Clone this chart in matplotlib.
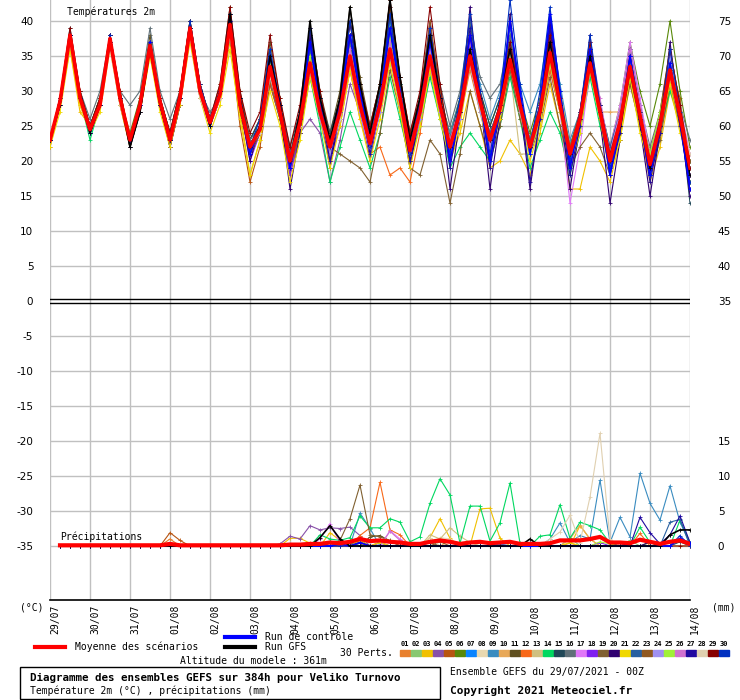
import numpy as np
import matplotlib
matplotlib.use("Agg")
import matplotlib.pyplot as plt
from matplotlib.lines import Line2D
from matplotlib.patches import Rectangle
from matplotlib.transforms import ScaledTranslation

plt.rcParams['font.family'] = ['DejaVu Sans Mono', 'DejaVu Sans']

dates = ['29/07', '30/07', '31/07', '01/08', '02/08', '03/08', '04/08', '05/08', '06/08',
         '07/08', '08/08', '09/08', '10/08', '11/08', '12/08', '13/08', '14/08']
hours = np.arange(0, 385, 6)          # température toutes les 6h
hours_prec = np.arange(6, 385, 6)     # cumul de précipitations sur 6h

colors = ['#e8802e', '#88c870', '#f0c000', '#8850a8', '#b85410', '#588808', '#0a84ff', '#e8d8b0',
          '#3a8cc0', '#e8a858', '#605020', '#f86818', '#d0c080', '#00d860', '#204858', '#607078',
          '#e078f8', '#8020f0', '#806030', '#300070', '#f0d800', '#2860a0', '#905820', '#a090f0',
          '#a0f038', '#d070d0', '#2008a0', '#e0d0b0', '#880000', '#0030c0']

t01 = [23,29,38,29, 24,28,37,30, 23,28,37,28, 23,29,39,31, 25,30,40,28, 21,24,34,27, 19,25,35,28, 23,28,37,29, 23,29,38,30, 22,27,35,27, 21,26,33,27, 24,28,36,29, 21,26,34,28, 20,25,33,26, 21,26,35,28, 18,24,31,27, 20]
t02 = [23,28,37,29, 25,28,37,29, 23,28,36,28, 22,28,38,30, 26,29,39,28, 22,25,33,27, 20,24,33,26, 21,26,34,27, 22,27,35,28, 20,26,33,27, 22,27,36,28, 22,26,33,27, 23,28,36,29, 22,27,35,28, 19,24,32,25, 20,26,34,27, 18]
t03 = [23,28,36,27, 25,29,38,29, 22,27,35,28, 23,29,38,30, 26,29,37,27, 18,23,31,26, 19,24,32,26, 20,25,33,27, 23,28,35,28, 21,26,33,26, 20,24,30,25, 19,20,23,21, 18,24,31,25, 16,16,22,20, 17,23,31,25, 17,22,30,25, 17]
t04 = [23,29,38,29, 24,28,37,29, 23,28,36,29, 23,29,39,30, 25,29,38,28, 21,24,31,26, 19,24,26,24, 17,23,31,27, 22,28,37,29, 22,27,35,29, 23,28,36,29, 24,28,35,28, 22,27,36,29, 20,26,36,28, 21,27,35,27, 19,25,33,27, 18]
t05 = [22,28,37,29, 24,28,37,28, 22,27,36,28, 22,28,39,30, 25,30,38,25, 17,22,31,26, 18,24,33,27, 21,27,36,29, 23,29,39,31, 24,28,36,28, 22,28,37,29, 23,27,33,27, 21,26,33,27, 22,27,35,28, 21,26,33,27, 20,26,34,29, 16]
t06 = [23,29,38,30, 25,29,38,29, 24,29,37,29, 24,30,40,31, 26,30,41,29, 23,26,35,28, 21,26,36,28, 23,28,38,30, 24,30,40,31, 23,29,38,29, 24,29,38,30, 25,29,37,29, 24,29,39,30, 22,27,36,28, 22,28,37,30, 25,31,40,30, 22]
t07 = [23,28,38,29, 24,28,38,29, 23,28,37,28, 23,29,39,30, 25,29,40,28, 22,25,34,27, 20,25,35,27, 21,26,34,27, 21,27,35,28, 22,27,36,28, 21,26,34,28, 22,27,35,28, 23,28,37,29, 21,26,35,27, 19,25,34,26, 21,26,33,26, 19]
t08 = [23,28,37,29, 25,28,37,29, 23,28,36,28, 23,28,38,29, 25,29,39,28, 22,24,33,27, 21,26,35,28, 23,27,35,28, 21,27,34,27, 20,26,33,27, 23,28,36,29, 22,27,35,28, 22,27,36,28, 20,25,33,26, 20,26,35,28, 19,24,32,27, 21]
t09 = [23,28,38,29, 24,28,37,29, 22,28,37,28, 23,29,39,30, 26,30,40,28, 21,25,34,27, 20,26,36,28, 22,28,37,29, 24,30,40,31, 23,28,37,29, 24,29,38,31, 26,30,39,31, 27,31,40,31, 23,27,35,28, 21,26,34,27, 20,25,33,27, 19]
t10 = [23,28,37,28, 24,28,37,29, 23,28,36,28, 23,29,38,30, 25,29,39,28, 22,24,32,27, 20,25,33,27, 22,27,35,28, 22,28,36,29, 21,27,35,28, 22,27,34,28, 22,27,35,29, 23,28,37,30, 22,26,33,27, 27,27,33,27, 20,25,32,25, 18]
t11 = [23,29,38,30, 25,29,38,30, 23,29,38,29, 24,30,40,31, 26,31,42,30, 23,26,37,29, 21,27,39,30, 24,30,42,32, 25,31,43,32, 23,29,39,30, 22,28,37,29, 23,28,36,28, 22,27,35,28, 20,26,35,27, 20,25,32,26, 20,26,35,27, 19]
t12 = [23,28,38,29, 24,28,37,29, 23,28,36,28, 23,29,38,30, 25,29,39,28, 22,24,33,27, 20,25,34,26, 21,26,33,26, 21,22,18,19, 17,24,33,27, 21,27,35,29, 22,28,37,28, 21,26,33,27, 21,25,33,26, 19,25,34,27, 19,24,32,26, 18]
t13 = [23,28,38,29, 24,28,37,29, 23,28,36,29, 23,29,39,30, 25,29,39,28, 22,25,34,27, 20,25,34,27, 22,27,35,28, 22,28,37,29, 22,27,34,28, 22,27,35,27, 22,26,33,21, 21,26,34,28, 21,26,34,27, 20,25,33,26, 19,24,31,25, 20]
t14 = [23,28,37,29, 23,28,37,29, 23,28,36,28, 23,29,39,30, 25,29,38,28, 21,24,32,26, 19,24,32,25, 17,22,27,23, 19,24,32,26, 20,25,32,26, 19,22,24,22, 20,25,32,26, 19,23,27,24, 18,24,32,25, 19,24,32,26, 18,24,30,26, 17]
t15 = [23,29,39,30, 25,29,38,29, 23,28,37,29, 24,30,40,31, 26,30,41,29, 23,26,36,28, 22,27,38,29, 24,29,40,31, 24,30,41,31, 24,29,39,30, 23,29,40,30, 25,29,38,29, 22,27,36,28, 21,27,36,27, 19,25,34,26, 19,24,33,27, 14]
t16 = [23,28,38,30, 26,30,38,30, 28,30,39,30, 26,30,40,30, 27,29,39,28, 23,25,34,28, 21,26,35,28, 23,28,37,29, 24,29,38,30, 23,29,39,31, 25,30,40,32, 29,31,38,29, 23,28,37,29, 22,27,35,28, 21,26,34,28, 22,27,36,28, 23]
t17 = [23,28,37,29, 24,28,37,29, 23,28,37,28, 23,29,39,30, 25,29,40,29, 22,25,33,27, 20,25,35,27, 22,27,36,28, 23,28,37,29, 22,27,35,28, 22,27,36,29, 23,28,36,28, 21,26,34,27, 14,22,33,27, 22,28,37,29, 21,26,35,28, 21]
t18 = [23,28,38,29, 24,28,37,29, 23,27,36,28, 22,28,38,29, 25,29,39,28, 20,24,32,26, 18,24,33,26, 20,25,34,27, 21,27,36,28, 20,26,34,27, 21,26,35,28, 22,27,35,28, 22,28,37,29, 21,26,35,27, 20,26,34,26, 19,25,33,26, 18]
t19 = [23,28,37,29, 24,28,37,28, 23,27,36,28, 22,28,38,29, 25,29,38,27, 21,24,32,26, 19,24,33,27, 22,21,20,19, 17,24,33,27, 19,18,23,21, 14,21,30,25, 20,25,33,26, 21,25,32,25, 19,22,24,22, 18,24,31,25, 18,23,31,25, 17]
t20 = [23,28,38,29, 24,28,38,29, 22,27,36,28, 22,28,39,30, 25,30,41,28, 20,25,35,27, 16,24,38,27, 19,27,40,29, 20,28,42,29, 19,27,40,28, 16,26,42,29, 16,26,41,28, 16,26,40,28, 16,25,38,26, 14,23,36,25, 15,24,37,26, 15]
t21 = [22,27,36,28, 24,27,36,28, 22,27,35,27, 22,28,37,29, 24,28,36,26, 18,23,30,25, 17,23,32,26, 19,25,33,26, 20,26,34,27, 19,25,33,26, 20,25,34,27, 21,26,34,27, 20,25,34,27, 19,24,33,26, 18,23,32,24, 19,25,31,24, 20]
t22 = [23,28,38,29, 24,28,38,29, 23,28,37,29, 23,29,39,31, 26,30,40,29, 22,25,34,28, 21,26,36,28, 22,28,38,30, 23,29,39,30, 22,28,37,29, 22,28,38,29, 24,28,37,29, 23,28,38,30, 21,27,37,28, 22,27,36,28, 20,26,35,27, 20]
t23 = [23,28,37,29, 24,28,37,29, 23,28,36,28, 23,29,39,30, 25,29,39,28, 21,24,33,27, 20,25,35,28, 23,28,38,30, 25,31,42,32, 24,29,40,30, 23,28,37,29, 22,27,35,28, 22,28,36,29, 22,27,36,28, 20,26,34,27, 21,27,36,28, 20]
t24 = [23,28,37,29, 24,28,37,29, 23,28,36,28, 23,29,38,30, 25,29,39,28, 22,24,33,27, 20,25,33,26, 21,26,34,27, 21,27,35,28, 21,26,34,27, 21,26,34,27, 22,27,34,27, 21,26,35,28, 20,25,34,27, 19,25,35,27, 20,26,35,27, 18]
t25 = [23,28,37,29, 24,28,37,29, 23,28,37,28, 23,29,39,31, 25,30,40,28, 22,25,34,28, 20,25,35,27, 22,27,35,28, 23,29,38,30, 22,27,36,28, 22,27,36,28, 21,27,35,29, 21,26,34,27, 20,25,33,26, 21,26,34,27, 21,27,34,27, 19]
t26 = [23,28,38,29, 24,28,37,29, 23,28,36,28, 23,29,38,30, 25,29,39,28, 22,25,33,27, 20,25,34,27, 22,27,36,29, 22,28,37,29, 22,27,36,29, 23,28,37,30, 22,27,35,28, 22,27,36,28, 21,27,37,29, 21,27,36,28, 20,26,34,26, 19]
t27 = [23,28,38,29, 24,28,38,29, 22,27,36,28, 23,29,39,30, 25,30,40,28, 21,25,35,28, 19,26,37,28, 20,27,38,29, 21,28,39,30, 20,27,38,29, 19,27,39,29, 19,27,40,29, 17,26,39,28, 18,25,36,27, 18,24,35,26, 17,24,34,25, 16]
t28 = [23,28,37,29, 24,28,36,28, 23,28,36,28, 23,29,38,29, 25,29,38,28, 22,24,32,27, 20,25,33,27, 22,26,34,28, 22,28,36,29, 21,27,35,28, 22,27,35,29, 23,28,35,28, 22,27,35,28, 21,26,34,27, 20,25,33,26, 20,25,33,26, 21]
t29 = [23,29,39,30, 25,29,38,30, 23,28,37,29, 24,30,40,31, 26,31,42,30, 24,27,38,29, 22,28,39,30, 23,29,40,31, 25,31,43,32, 24,30,42,31, 22,28,38,30, 23,28,37,29, 22,28,38,29, 21,27,37,28, 21,26,35,27, 20,26,36,28, 19]
t30 = [23,29,38,29, 24,28,38,29, 23,28,37,28, 23,29,40,31, 26,30,41,29, 22,26,36,28, 20,27,39,29, 22,28,40,30, 22,29,41,30, 21,28,39,29, 21,29,41,30, 21,29,43,31, 22,30,42,30, 20,27,38,28, 19,25,35,27, 18,25,36,27, 17]
t_ctrl = [23,28,38,29, 24,28,37,29, 23,28,37,28, 23,29,39,30, 25,30,40,28, 21,25,35,28, 19,26,37,28, 22,28,38,30, 23,29,39,30, 22,28,37,29, 20,27,38,29, 20,28,40,30, 21,28,41,30, 19,26,36,27, 18,25,35,26, 18,25,34,26, 16]
t_gfs = [23,28,38,29, 24,28,37,29, 22,27,36,28, 23,29,39,30, 25,30,41,29, 22,25,35,28, 20,27,40,29, 23,29,42,31, 24,31,43,32, 23,29,38,29, 22,27,36,29, 23,28,36,28, 22,27,37,28, 21,26,35,27, 20,25,33,26, 19,25,33,26, 18]
t_mean = [23,28.5,38,29, 24.5,28,37.5,29, 23,28,36.5,28.5, 23,29,39,30, 25.5,29.5,39.5,28, 22,24.5,33.5,27, 20,25.5,34,27, 22,27,35,28, 22.5,28,36,29, 21.5,27,35,28, 22,27,35,28.5, 23,27.5,34.5,28, 22,27,35.5,28, 21,26,34,27, 20,25.5,33.5,26.5, 19.5,25,33,26.5, 19]

# précipitations (mm / 6h), pas -> valeur, les autres pas sont à 0
p01 = {12: 1.0, 33: 0.6, 52: 0.4}
p02 = {31: 0.5, 52: 1.2, 58: 0.8}
p03 = {24: 1.1, 25: 1.1, 26: 0.4, 28: 1.9, 29: 0.8, 38: 1.2, 39: 3.9, 40: 1.1, 43: 5.3, 44: 5.4, 45: 1.1, 53: 2.9, 54: 1.0}
p04 = {23: 0.3, 24: 1.4, 25: 1.0, 26: 2.9, 27: 2.3, 28: 2.6, 29: 2.5, 30: 2.7, 31: 1.5, 33: 0.4}
p05 = {12: 1.9, 13: 0.8, 31: 0.4}
p06 = {29: 0.4, 60: 0.5}
p07 = {30: 0.6, 45: 0.3, 63: 1.0}
p08 = {39: 1.2, 40: 1.0, 42: 0.6}
p09 = {31: 4.7, 32: 2.5, 50: 1.0, 51: 3.3, 52: 0.5, 53: 1.5, 54: 1.0, 55: 9.4, 56: 0.5, 57: 4.1, 58: 1.3, 59: 10.4, 60: 6.1, 61: 3.7, 62: 8.6, 63: 3.4, 64: 0.4}
p10 = {40: 0.8, 52: 1.0, 53: 3.0, 54: 1.0}
p11 = {32: 1.3, 33: 1.5, 34: 0.7}
p12 = {31: 1.5, 32: 2.6, 33: 9.1, 34: 2.3, 35: 1.6, 59: 1.8}
p13 = {38: 1.6, 39: 1.0, 40: 2.6, 41: 1.4, 42: 0.5}
p14 = {27: 1.6, 28: 1.0, 29: 0.8, 30: 1.2, 31: 4.3, 32: 2.6, 33: 2.6, 34: 3.9, 35: 3.4, 36: 0.6, 37: 1.3, 38: 6.1, 39: 9.6, 40: 7.3,
       41: 0.4, 42: 5.7, 43: 5.7, 44: 0.7, 45: 3.3, 46: 9.0, 47: 0.4, 49: 1.4, 50: 1.6, 51: 5.9, 52: 1.1, 53: 3.4, 54: 2.9,
       55: 2.3, 56: 0.4, 59: 2.7, 60: 0.5, 63: 3.7, 64: 0.5}
p15 = {31: 0.8, 63: 0.6}
p16 = {30: 0.5}
p17 = {27: 1.0, 28: 3.2, 29: 0.5, 34: 2.2, 35: 1.0}
p18 = {55: 0.5}
p19 = {29: 0.8, 30: 3.9, 31: 8.7, 32: 1.6, 33: 1.3, 34: 0.8, 38: 0.5}
p20 = {57: 0.4, 60: 0.6}
p21 = {31: 0.8, 33: 0.5, 52: 0.5}
p22 = {62: 3.4, 63: 3.8}
p23 = {39: 0.6}
p24 = {28: 0.4}
p25 = {55: 0.6, 56: 0.3}
p26 = {34: 2.1, 35: 0.8, 63: 1.0}
p27 = {59: 4.1, 60: 1.9, 61: 0.3, 62: 1.6, 63: 4.3, 64: 0.5}
p28 = {38: 1.2, 50: 1.0, 51: 2.0, 52: 4.4, 53: 0.5, 54: 7.0, 55: 16.1, 56: 1.0}
p29 = {31: 0.5}
p30 = {63: 1.5}
p_ctrl = {29: 0.3, 31: 0.5, 63: 1.1, 64: 0.4}
p_gfs = {27: 1.2, 28: 2.9, 29: 1.0, 48: 1.0, 62: 1.6, 63: 2.3, 64: 2.3}
p_mean = [0.1, 0.1, 0.1, 0.1, 0.1, 0.1, 0.1, 0.1, 0.1, 0.1, 0.1, 0.3, 0.1, 0.1, 0.1, 0.1, 0.1, 0.1, 0.1, 0.1,
          0.1, 0.1, 0.1, 0.2, 0.2, 0.3, 0.3, 0.5, 0.4, 0.6, 1.0, 0.7, 0.8, 0.6, 0.5, 0.3, 0.3, 0.6, 0.8, 0.6,
          0.3, 0.5, 0.6, 0.4, 0.5, 0.6, 0.3, 0.3, 0.3, 0.4, 0.8, 0.8, 0.8, 1.0, 1.3, 0.5, 0.5, 0.4, 0.9, 0.6,
          0.3, 0.6, 0.8, 0.3]

temps = [t01, t02, t03, t04, t05, t06, t07, t08, t09, t10, t11, t12, t13, t14, t15,
         t16, t17, t18, t19, t20, t21, t22, t23, t24, t25, t26, t27, t28, t29, t30]
precs = [p01, p02, p03, p04, p05, p06, p07, p08, p09, p10, p11, p12, p13, p14, p15,
         p16, p17, p18, p19, p20, p21, p22, p23, p24, p25, p26, p27, p28, p29, p30]

PRECIP_BASE = -35   # le 0 mm est placé sur -35 °C


def prec_series(events):
    """Série complète de 64 pas à partir des pas non nuls."""
    p = np.zeros(len(hours_prec))
    for k, v in events.items():
        p[k - 1] = v
    return p


def fx(x, y):
    """Pixels -> fraction de la figure."""
    return x / 740, 1 - y / 700


def draw_member(ax, t, p, color, lw=0.8, z=2):
    ax.plot(hours, t, color=color, lw=lw, marker='+', ms=3, mew=0.6, zorder=z)
    ax.plot(hours_prec, np.asarray(p) + PRECIP_BASE, color=color, lw=lw, marker='+', ms=3, mew=0.6, zorder=z)


fig = plt.figure(figsize=(7.4, 7), dpi=100)
ax = fig.add_axes([50 / 740, 100 / 700, 640 / 740, 600 / 700])
ax.set_xlim(0, 384)
ax.set_ylim((301 - 600) / 7, 301 / 7)

# grille
for h in range(0, 385, 24):
    ax.axvline(h, color='#c0c0c0', lw=1.0, zorder=0)
for v in range(-35, 41, 5):
    if v != 0:
        ax.axhline(v, color='#c0c0c0', lw=1.0, zorder=0)
ax.axhline(0.22, color='black', lw=1.0, zorder=1)
ax.axhline(-0.22, color='black', lw=1.0, zorder=1)

# membres, contrôle, GFS puis moyenne par-dessus
for t, p, c in zip(temps, precs, colors):
    draw_member(ax, t, prec_series(p), c)
draw_member(ax, t_ctrl, prec_series(p_ctrl), '#0000ff', lw=1.2, z=3)
draw_member(ax, t_gfs, prec_series(p_gfs), 'black', lw=1.2, z=3)
ax.plot(hours, t_mean, color='#ff0000', lw=2.6, zorder=4)
ax.plot(hours_prec, np.array(p_mean) + PRECIP_BASE, color='#ff0000', lw=3.0, zorder=4)

# axes
for s in ['top', 'left', 'right']:
    ax.spines[s].set_visible(False)
ax.spines['bottom'].set_linewidth(1.2)
ax.set_yticks(range(-35, 41, 5))
ax.set_yticklabels([str(v) for v in range(-35, 41, 5)], fontsize=7.5, family='DejaVu Sans')
ax.tick_params(axis='y', length=0, pad=12)
ax.set_xticks(range(0, 385, 24))
ax.set_xticklabels(dates, rotation=90, fontsize=7, va='top')
ax.tick_params(axis='x', length=0, pad=3)
for lbl in ax.get_xticklabels():
    lbl.set_transform(lbl.get_transform() + ScaledTranslation(5 / 100, 0, fig.dpi_scale_trans))

ax2 = ax.twinx()
ax2.set_ylim(ax.get_ylim()[0] + 35, ax.get_ylim()[1] + 35)
right_ticks = [0, 5, 10, 15] + list(range(35, 76, 5))
ax2.set_yticks(right_ticks)
ax2.set_yticklabels([str(v) for v in right_ticks], fontsize=7.5, family='DejaVu Sans')
ax2.tick_params(axis='y', length=0, pad=20)
for s in ['top', 'left', 'right', 'bottom']:
    ax2.spines[s].set_visible(False)

ax.text(10, 40.8, 'Températures 2m', fontsize=7, zorder=6)
ax.text(6, -34.2, 'Précipitations', fontsize=7, zorder=6)
fig.text(*fx(20, 607), '(°C)', fontsize=7, va='center')
fig.text(*fx(712, 607), '(mm)', fontsize=7, va='center')

# légende
fig.add_artist(Line2D([35 / 740, 65 / 740], [1 - 647 / 700] * 2, color='#ff0000', lw=3))
fig.text(*fx(75, 647), 'Moyenne des scénarios', fontsize=7, va='center')
fig.add_artist(Line2D([225 / 740, 255 / 740], [1 - 637 / 700] * 2, color='#0000ff', lw=3))
fig.text(*fx(265, 637), 'Run de contrôle', fontsize=7, va='center')
fig.add_artist(Line2D([225 / 740, 255 / 740], [1 - 647 / 700] * 2, color='black', lw=3))
fig.text(*fx(265, 647), 'Run GFS', fontsize=7, va='center')
fig.text(*fx(340, 653), '30 Perts.', fontsize=7, va='center')
fig.text(*fx(180, 661), 'Altitude du modele : 361m', fontsize=7, va='center')

for i, c in enumerate(colors):
    x0 = 400 + i * 11
    fig.add_artist(Rectangle((x0 / 740, 1 - 656 / 700), 10 / 740, 6 / 700, color=c, transform=fig.transFigure))
    fig.text((x0 + 5) / 740, 1 - 644 / 700, '%02d' % (i + 1), fontsize=5, ha='center', va='center', weight='bold')

fig.add_artist(Rectangle((20 / 740, 1 - 699 / 700), 420 / 740, 32 / 700, fill=False, edgecolor='black',
                         lw=1, transform=fig.transFigure))
fig.text(*fx(30, 678), 'Diagramme des ensembles GEFS sur 384h pour Veliko Turnovo', fontsize=7.8,
         weight='bold', va='center')
fig.text(*fx(30, 691), 'Température 2m (°C) , précipitations (mm)', fontsize=7, va='center')
fig.text(*fx(450, 672), 'Ensemble GEFS du 29/07/2021 - 00Z', fontsize=7, va='center')
fig.text(*fx(450, 691), 'Copyright 2021 Meteociel.fr', fontsize=8, weight='bold', va='center')

fig.savefig('out.png', dpi=100)
